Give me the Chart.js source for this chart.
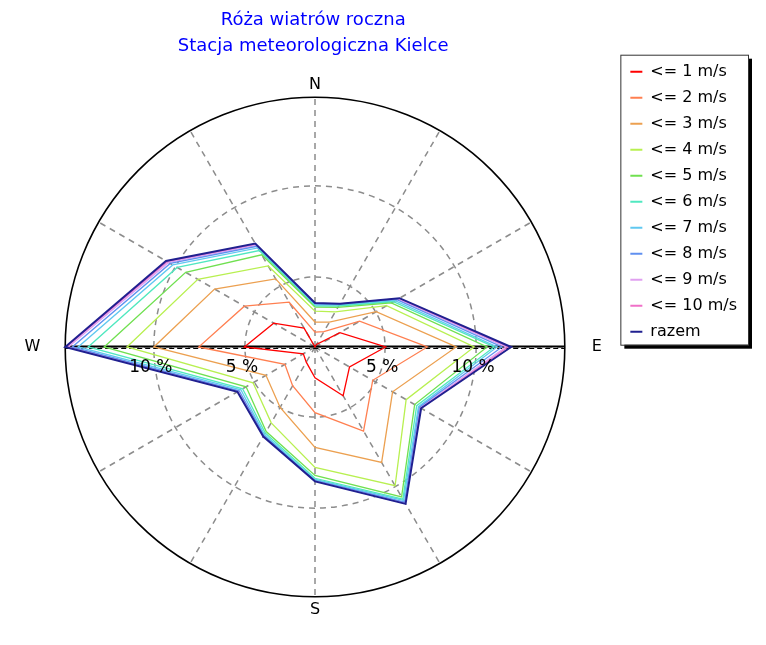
<!DOCTYPE html>
<html>
<head>
<meta charset="utf-8">
<script src="https://cdn.jsdelivr.net/npm/chart.js@4/dist/chart.umd.min.js"></script>
<style>
  body { margin: 0; background: #fff; }
  #wrap { width: 766px; height: 645px; position: relative; }
</style>
</head>
<body>
<div id="wrap"><canvas id="rose"></canvas></div>
<script>
// 12 kierunkow co 30 stopni, podpisane tylko glowne
var directions = ['N', '', '', 'E', '', '', 'S', '', '', 'W', '', ''];

var seriesNames = ['<= 1 m/s', '<= 2 m/s', '<= 3 m/s', '<= 4 m/s', '<= 5 m/s',
                   '<= 6 m/s', '<= 7 m/s', '<= 8 m/s', '<= 9 m/s', '<= 10 m/s', 'razem'];

// czestosci skumulowane [%]
var upTo1  = [1.15, 1.31, 2.73, 5.03, 3.34, 4.24, 2.84, 2.11, 1.89, 5.03, 3.77, 2.35];
var upTo2  = [1.97, 2.12, 3.98, 7.32, 4.81, 6.48, 4.76, 3.61, 3.06, 7.54, 5.63, 3.99];
var upTo3  = [2.52, 2.73, 5.03, 8.91, 6.07, 8.47, 6.67, 4.98, 4.26, 10.0, 7.52, 5.47];
var upTo4  = [3.12, 3.38, 5.69, 9.89, 6.93, 9.95, 7.76, 5.96, 5.08, 11.48, 8.58, 6.29];
var upTo5  = [3.34, 3.66, 5.99, 10.6, 7.47, 10.66, 8.2, 6.51, 5.52, 12.73, 9.35, 7.0];
var upTo6  = [3.39, 3.75, 6.12, 10.99, 7.6, 10.8, 8.36, 6.61, 5.74, 13.61, 9.89, 7.27];
var upTo7  = [3.45, 3.8, 6.23, 11.15, 7.71, 10.88, 8.42, 6.7, 5.85, 14.16, 10.17, 7.43];
var upTo8  = [3.5, 3.84, 6.34, 11.42, 7.76, 10.99, 8.45, 6.75, 5.96, 14.48, 10.33, 7.54];
var upTo9  = [3.53, 3.87, 6.4, 11.64, 7.82, 11.04, 8.47, 6.78, 6.01, 14.7, 10.44, 7.6];
var upTo10 = [3.55, 3.88, 6.45, 11.75, 7.84, 11.07, 8.5, 6.81, 6.04, 14.81, 10.52, 7.65];
var total  = [3.57, 3.9, 6.51, 11.92, 7.88, 11.1, 8.53, 6.83, 6.07, 14.87, 10.6, 7.71];

var ringValues = [5, 10];
var ringLabels = ['5 %', '10 %'];

var colors = ['#ff0000', '#ff7f50', '#eca050', '#b8f050', '#70e050',
              '#50e8c0', '#60c8f0', '#6090f0', '#e0a0f0', '#f070c8', '#202090'];

var allSeries = [upTo1, upTo2, upTo3, upTo4, upTo5, upTo6, upTo7, upTo8, upTo9, upTo10, total];

// skala od najmniejszej do najwiekszej wartosci
var SCALE_MIN = Math.min.apply(null, upTo1);
var SCALE_MAX = Math.max.apply(null, total);

var FONT = 'DejaVu Sans';

var datasets = [];
$each = function(arr, fn) { for (var i = 0; i < arr.length; i++) fn(i, arr[i]); };
$each(allSeries, function(i, values) {
    var isTotal = i === allSeries.length - 1;
    datasets.push({
        label: seriesNames[i],
        data: values,
        borderColor: colors[i],
        backgroundColor: colors[i],
        borderWidth: isTotal ? 2 : 1.3,
        order: isTotal ? -1 : i,   // razem na wierzchu
        fill: false,
        pointRadius: 0,
        pointHoverRadius: 0,
        tension: 0
    });
});

var roseExtras = {
    id: 'roseExtras',
    beforeDraw: function(chart) {
        // ramka legendy z cieniem
        var legend = chart.legend;
        if (!legend || !legend.legendHitBoxes.length) return;
        var hb = legend.legendHitBoxes;
        var top = Infinity, bottom = 0, left = Infinity, right = 0;
        hb.forEach(function(b) {
            top = Math.min(top, b.top);
            bottom = Math.max(bottom, b.top + b.height);
            left = Math.min(left, b.left);
            right = Math.max(right, b.left + b.width);
        });
        var x0 = left - 10, y0 = top - 9;
        var x1 = right + 11, y1 = bottom + 5;
        var ctx = chart.ctx;
        ctx.save();
        ctx.fillStyle = '#000';
        ctx.fillRect(x0 + 4, y0 + 4, x1 - x0, y1 - y0);
        ctx.fillStyle = '#fff';
        ctx.fillRect(x0, y0, x1 - x0, y1 - y0);
        ctx.strokeStyle = '#333';
        ctx.lineWidth = 1;
        ctx.strokeRect(x0 + 0.5, y0 + 0.5, x1 - x0, y1 - y0);
        ctx.restore();
    },
    beforeDatasetsDraw: function(chart) {
        // os W-E
        var scale = chart.scales.r;
        var w = scale.getPointPositionForValue(9, SCALE_MAX);
        var e = scale.getPointPositionForValue(3, SCALE_MAX);
        var ctx = chart.ctx;
        ctx.save();
        ctx.strokeStyle = '#000';
        ctx.lineWidth = 2;
        ctx.beginPath();
        ctx.moveTo(w.x, w.y - 0.5);
        ctx.lineTo(e.x, e.y - 0.5);
        ctx.stroke();
        ctx.setLineDash([5, 3]);
        ctx.lineWidth = 1.2;
        ctx.beginPath();
        ctx.moveTo(w.x, w.y + 1.5);
        ctx.lineTo(e.x, e.y + 1.5);
        ctx.stroke();
        ctx.restore();
    },
    afterDatasetsDraw: function(chart) {
        // opisy okregow pod osia W-E
        var scale = chart.scales.r;
        var ctx = chart.ctx;
        ctx.save();
        ctx.font = '17px "' + FONT + '"';
        ctx.fillStyle = '#000';
        ctx.textAlign = 'center';
        ctx.textBaseline = 'middle';
        $each(ringValues, function(i, v) {
            var r = scale.getDistanceFromCenterForValue(v);
            ctx.fillText(ringLabels[i], scale.xCenter - r - 3, scale.yCenter + 21);
            ctx.fillText(ringLabels[i], scale.xCenter + r - 3, scale.yCenter + 21);
        });
        ctx.restore();
    }
};

var pointPadding = { 0: 3, 3: 27, 6: 3, 9: 25 };

new Chart(document.getElementById('rose'), {
    type: 'radar',
    data: { labels: directions, datasets: datasets },
    plugins: [roseExtras],
    options: {
        responsive: true,
        maintainAspectRatio: false,
        animation: false,
        layout: { padding: { left: 6, right: 19, top: 0, bottom: 25 } },
        elements: { line: { tension: 0 } },
        scales: {
            r: {
                min: SCALE_MIN,
                max: SCALE_MAX,
                startAngle: 0,
                afterBuildTicks: function(scale) {
                    var t = [SCALE_MIN].concat(ringValues, [SCALE_MAX]);
                    scale.ticks = t.map(function(v) { return { value: v }; });
                },
                ticks: { display: false },
                grid: {
                    circular: true,
                    color: function(c) { return c.tick && c.tick.value === SCALE_MAX ? '#000' : '#8c8c8c'; },
                    lineWidth: function(c) { return c.tick && c.tick.value === SCALE_MAX ? 1.6 : 1.5; }
                },
                border: {
                    dash: function(c) { return c.tick && c.tick.value === SCALE_MAX ? [] : [6, 5]; }
                },
                angleLines: {
                    display: true,
                    color: '#8c8c8c',
                    lineWidth: 1.5,
                    borderDash: [6, 5]
                },
                pointLabels: {
                    display: true,
                    color: '#000',
                    font: { family: FONT, size: 16, lineHeight: 1.2 },
                    padding: function(c) { return pointPadding[c.index] || 0; }
                }
            }
        },
        plugins: {
            tooltip: { enabled: false },
            title: {
                display: true,
                fullSize: false,
                text: ['Róża wiatrów roczna', 'Stacja meteorologiczna Kielce'],
                color: '#0000ff',
                font: { family: FONT, size: 18, weight: 'normal', lineHeight: '26px' },
                padding: { top: 7, bottom: 17 }
            },
            legend: {
                position: 'right',
                align: 'start',
                title: {
                    display: true,
                    text: '',
                    font: { family: FONT, size: 16, lineHeight: 1.2 },
                    padding: { top: 34.5, bottom: 0 }
                },
                labels: {
                    color: '#000',
                    font: { family: FONT, size: 16 },
                    boxWidth: 12,
                    boxHeight: 2,
                    padding: 10,
                    sort: function(a, b) { return a.datasetIndex - b.datasetIndex; },
                    generateLabels: function(chart) {
                        var items = Chart.defaults.plugins.legend.labels.generateLabels(chart);
                        items.forEach(function(it) { it.lineWidth = 0; });
                        return items;
                    }
                }
            }
        }
    }
});
</script>
</body>
</html>
